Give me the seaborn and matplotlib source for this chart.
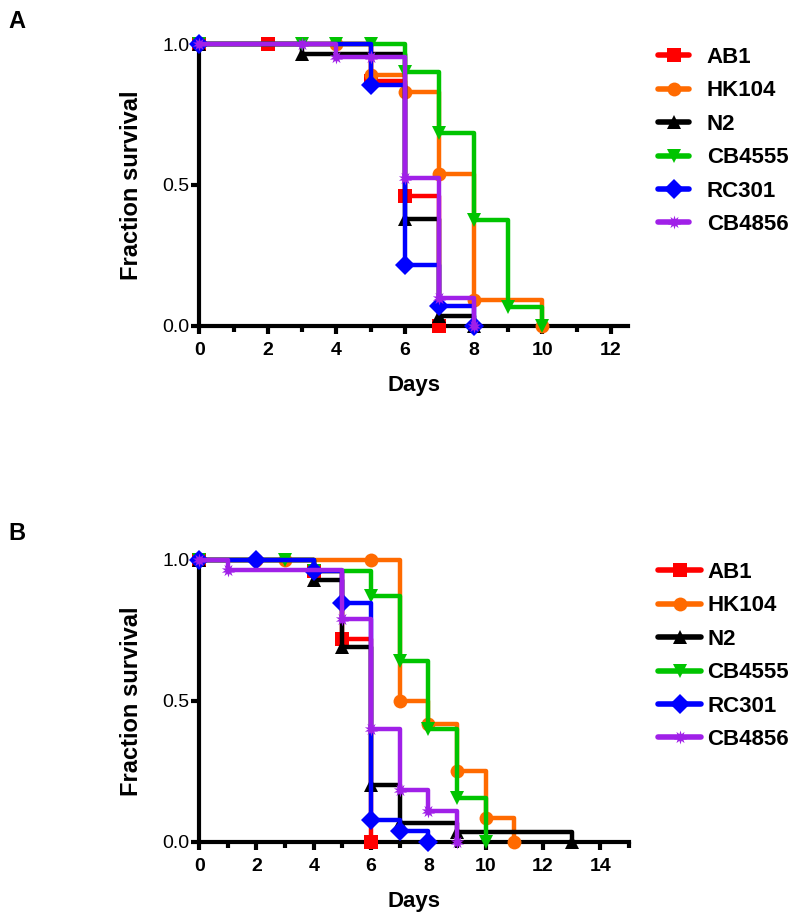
import matplotlib
matplotlib.use("Agg")
import matplotlib.pyplot as plt
from matplotlib.ticker import MultipleLocator, FormatStrFormatter
import seaborn as sns
import pandas as pd

# strains, colours and markers
strains = ["AB1", "HK104", "N2", "CB4555", "RC301", "CB4856"]
colors = ["#FF0000", "#FF6A00", "#000000", "#00C400", "#0000FF", "#A020E8"]
markers = ["s", "o", "^", "v", "D", (10, 1, 0)]

# Panel A survival curves (days, fraction surviving)
a_days = {
    "AB1": [0, 2, 5, 6, 7],
    "HK104": [0, 4, 5, 6, 7, 8, 10],
    "N2": [0, 3, 6, 7, 8],
    "CB4555": [0, 3, 4, 5, 6, 7, 8, 9, 10],
    "RC301": [0, 5, 6, 7, 8],
    "CB4856": [0, 3, 4, 5, 6, 7, 8],
}
a_surv = {
    "AB1": [1.0, 1.0, 0.87, 0.46, 0.0],
    "HK104": [1.0, 1.0, 0.89, 0.83, 0.54, 0.09, 0.0],
    "N2": [1.0, 0.965, 0.38, 0.035, 0.0],
    "CB4555": [1.0, 1.0, 1.0, 1.0, 0.90, 0.685, 0.375, 0.068, 0.0],
    "RC301": [1.0, 0.855, 0.215, 0.07, 0.0],
    "CB4856": [1.0, 1.0, 0.955, 0.955, 0.525, 0.10, 0.0],
}

# Panel B survival curves
b_days = {
    "AB1": [0, 4, 5, 6],
    "HK104": [0, 2, 3, 6, 7, 8, 9, 10, 11],
    "N2": [0, 4, 5, 6, 7, 9, 13],
    "CB4555": [0, 3, 4, 6, 7, 8, 9, 10],
    "RC301": [0, 2, 4, 5, 6, 7, 8],
    "CB4856": [0, 1, 5, 6, 7, 8, 9],
}
b_surv = {
    "AB1": [1.0, 0.96, 0.72, 0.0],
    "HK104": [1.0, 1.0, 1.0, 1.0, 0.5, 0.418, 0.25, 0.083, 0.0],
    "N2": [1.0, 0.93, 0.69, 0.20, 0.068, 0.034, 0.0],
    "CB4555": [1.0, 1.0, 0.96, 0.872, 0.64, 0.40, 0.155, 0.0],
    "RC301": [1.0, 1.0, 0.96, 0.846, 0.077, 0.04, 0.0],
    "CB4856": [1.0, 0.963, 0.79, 0.40, 0.185, 0.11, 0.0],
}


def to_long(days, surv):
    rows = []
    for s in strains:
        for d, v in zip(days[s], surv[s]):
            rows.append({"Strain": s, "Days": d, "Survival": v})
    return pd.DataFrame(rows)


sns.set_style("ticks")
plt.rcParams["font.family"] = ["Liberation Sans", "DejaVu Sans"]
plt.rcParams["text.color"] = "black"
plt.rcParams["axes.labelcolor"] = "black"
plt.rcParams["xtick.color"] = "black"
plt.rcParams["ytick.color"] = "black"
plt.rcParams["axes.edgecolor"] = "black"

fig = plt.figure(figsize=(8, 9.16), dpi=100)
axA = fig.add_axes([0.249, 0.6444, 0.536, 0.3075])
axB = fig.add_axes([0.249, 0.081, 0.537, 0.3078])

palette = dict(zip(strains, colors))
marker_map = dict(zip(strains, markers))


def draw(ax, df, xmax, xtick_max, handlelen, textpad, legend_y, letter, letter_y):
    sns.lineplot(
        data=df, x="Days", y="Survival", hue="Strain", style="Strain",
        hue_order=strains, style_order=strains, palette=palette,
        markers=marker_map, dashes=False, estimator=None, errorbar=None,
        sort=False, drawstyle="steps-post", linewidth=3.2, markersize=10,
        markeredgewidth=0, clip_on=False, ax=ax,
    )
    ax.set_xlim(0, xmax)
    ax.set_ylim(0, 1.0)
    ax.set_xticks(range(0, xtick_max + 1, 2))
    ax.xaxis.set_minor_locator(MultipleLocator(1))
    ax.set_yticks([0, 0.5, 1.0])
    ax.yaxis.set_major_formatter(FormatStrFormatter("%.1f"))
    sns.despine(ax=ax)
    for sp in ["left", "bottom"]:
        ax.spines[sp].set_linewidth(3)
        ax.spines[sp].set_zorder(0)
    ax.tick_params(axis="y", which="major", length=6, width=3, labelsize=14, pad=1)
    ax.tick_params(axis="x", which="major", length=6, width=3, labelsize=14, pad=6)
    ax.tick_params(axis="x", which="minor", length=4, width=3)
    for lab in ax.get_xticklabels():
        lab.set_fontweight("bold")
    ax.set_xlabel("Days", fontsize=16, fontweight="bold", labelpad=11)
    ax.set_ylabel("Fraction survival", fontsize=17, fontweight="bold", labelpad=14)
    sns.move_legend(
        ax, loc="upper left", bbox_to_anchor=(0.8225, legend_y),
        bbox_transform=fig.transFigure, frameon=False, title=None,
        prop={"weight": "bold", "size": 16}, handlelength=handlelen,
        handletextpad=textpad, labelspacing=0.56, borderpad=0, borderaxespad=0,
    )
    for h in ax.get_legend().legend_handles:
        h.set_linewidth(4)
        h.set_markersize(10)
    fig.text(0.01, letter_y, letter, fontsize=17, fontweight="bold", va="center")


draw(axA, to_long(a_days, a_surv), 12.5, 12, 1.4, 0.8, 0.9487, "A", 0.976)
draw(axB, to_long(b_days, b_surv), 15, 14, 1.95, 0.27, 0.3865, "B", 0.418)

fig.savefig("out.png", dpi=100)
